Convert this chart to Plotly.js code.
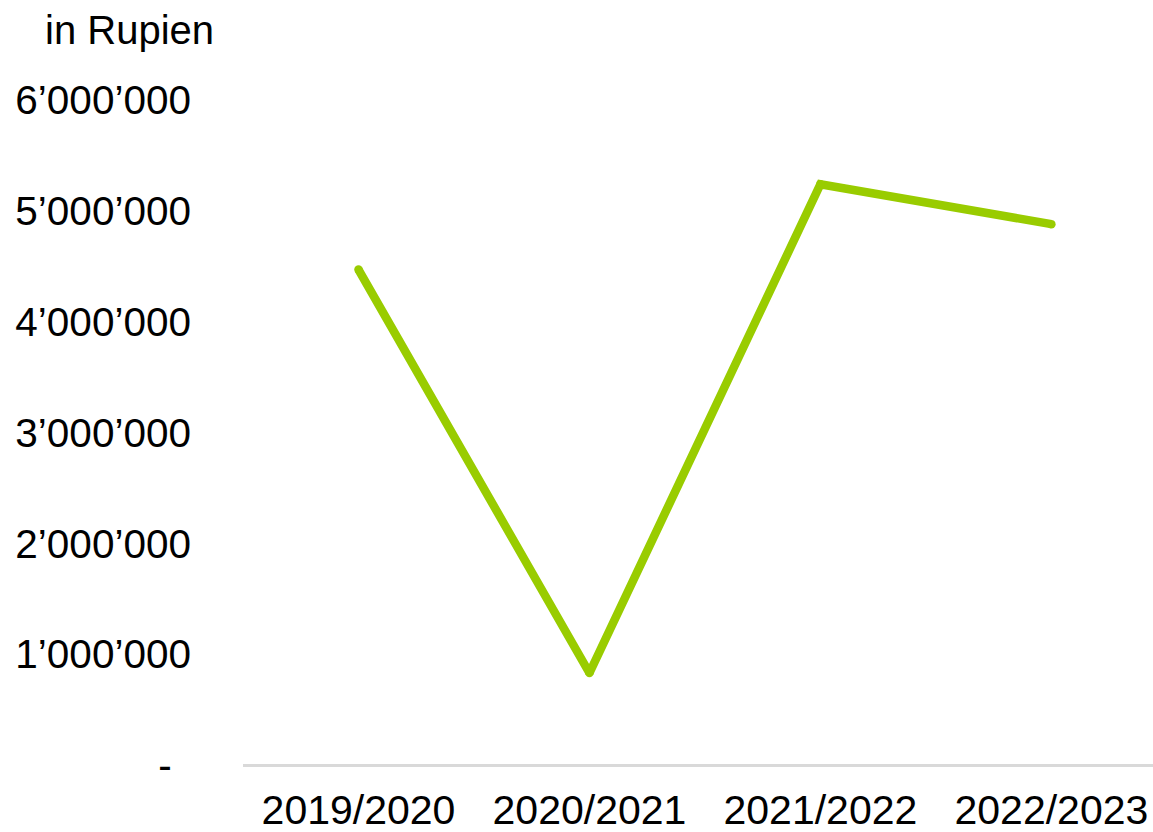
<!DOCTYPE html>
<html>
<head>
<meta charset="utf-8">
<script src="https://cdn.plot.ly/plotly-3.0.1.min.js"></script>
<style>html,body{margin:0;padding:0;background:#fff;}#chart{width:1153px;height:832px;}</style>
</head>
<body>
<div id="chart"></div>
<script>
const categories = ["2019/2020", "2020/2021", "2021/2022", "2022/2023"];
const values = [4470000, 830000, 5240000, 4880000];
const yTickVals = [0, 1000000, 2000000, 3000000, 4000000, 5000000, 6000000];
const yTickText = ["-\u00a0\u2009", "1\u2019000\u2019000", "2\u2019000\u2019000", "3\u2019000\u2019000", "4\u2019000\u2019000", "5\u2019000\u2019000", "6\u2019000\u2019000"];
const unitLabel = "in Rupien";

const fam = "Liberation Sans, Arial, sans-serif";

Plotly.newPlot("chart", [{
  type: "scatter",
  mode: "lines+markers",
  x: categories,
  y: values,
  line: {color: "#99CC00", width: 8.5},
  marker: {color: "#99CC00", size: 8.5},
  hoverinfo: "skip",
  showlegend: false
}], {
  width: 1153,
  height: 832,
  margin: {l: 243, r: 0, t: 100, b: 67},
  paper_bgcolor: "#ffffff",
  plot_bgcolor: "#ffffff",
  font: {family: fam, size: 40, color: "#000000"},
  title: {
    text: unitLabel,
    font: {family: fam, size: 40, color: "#000000"},
    x: 45 / 1153,
    xanchor: "left",
    xref: "container",
    y: 1 - 30 / 832,
    yanchor: "middle",
    yref: "container"
  },
  xaxis: {
    type: "category",
    range: [-0.5, 3.44],
    showgrid: false,
    zeroline: false,
    showline: false,
    ticks: "",
    tickfont: {family: fam, size: 41, color: "#000000"},
    ticklabelstandoff: 17
  },
  yaxis: {
    range: [0, 6000000],
    tickvals: yTickVals,
    ticktext: yTickText,
    showgrid: false,
    zeroline: true,
    zerolinecolor: "#d9d9d9",
    zerolinewidth: 3,
    showline: false,
    ticks: "",
    tickfont: {family: fam, size: 40.5, color: "#000000"},
    ticklabelstandoff: 51
  }
}, {displayModeBar: false, staticPlot: true});
</script>
</body>
</html>
